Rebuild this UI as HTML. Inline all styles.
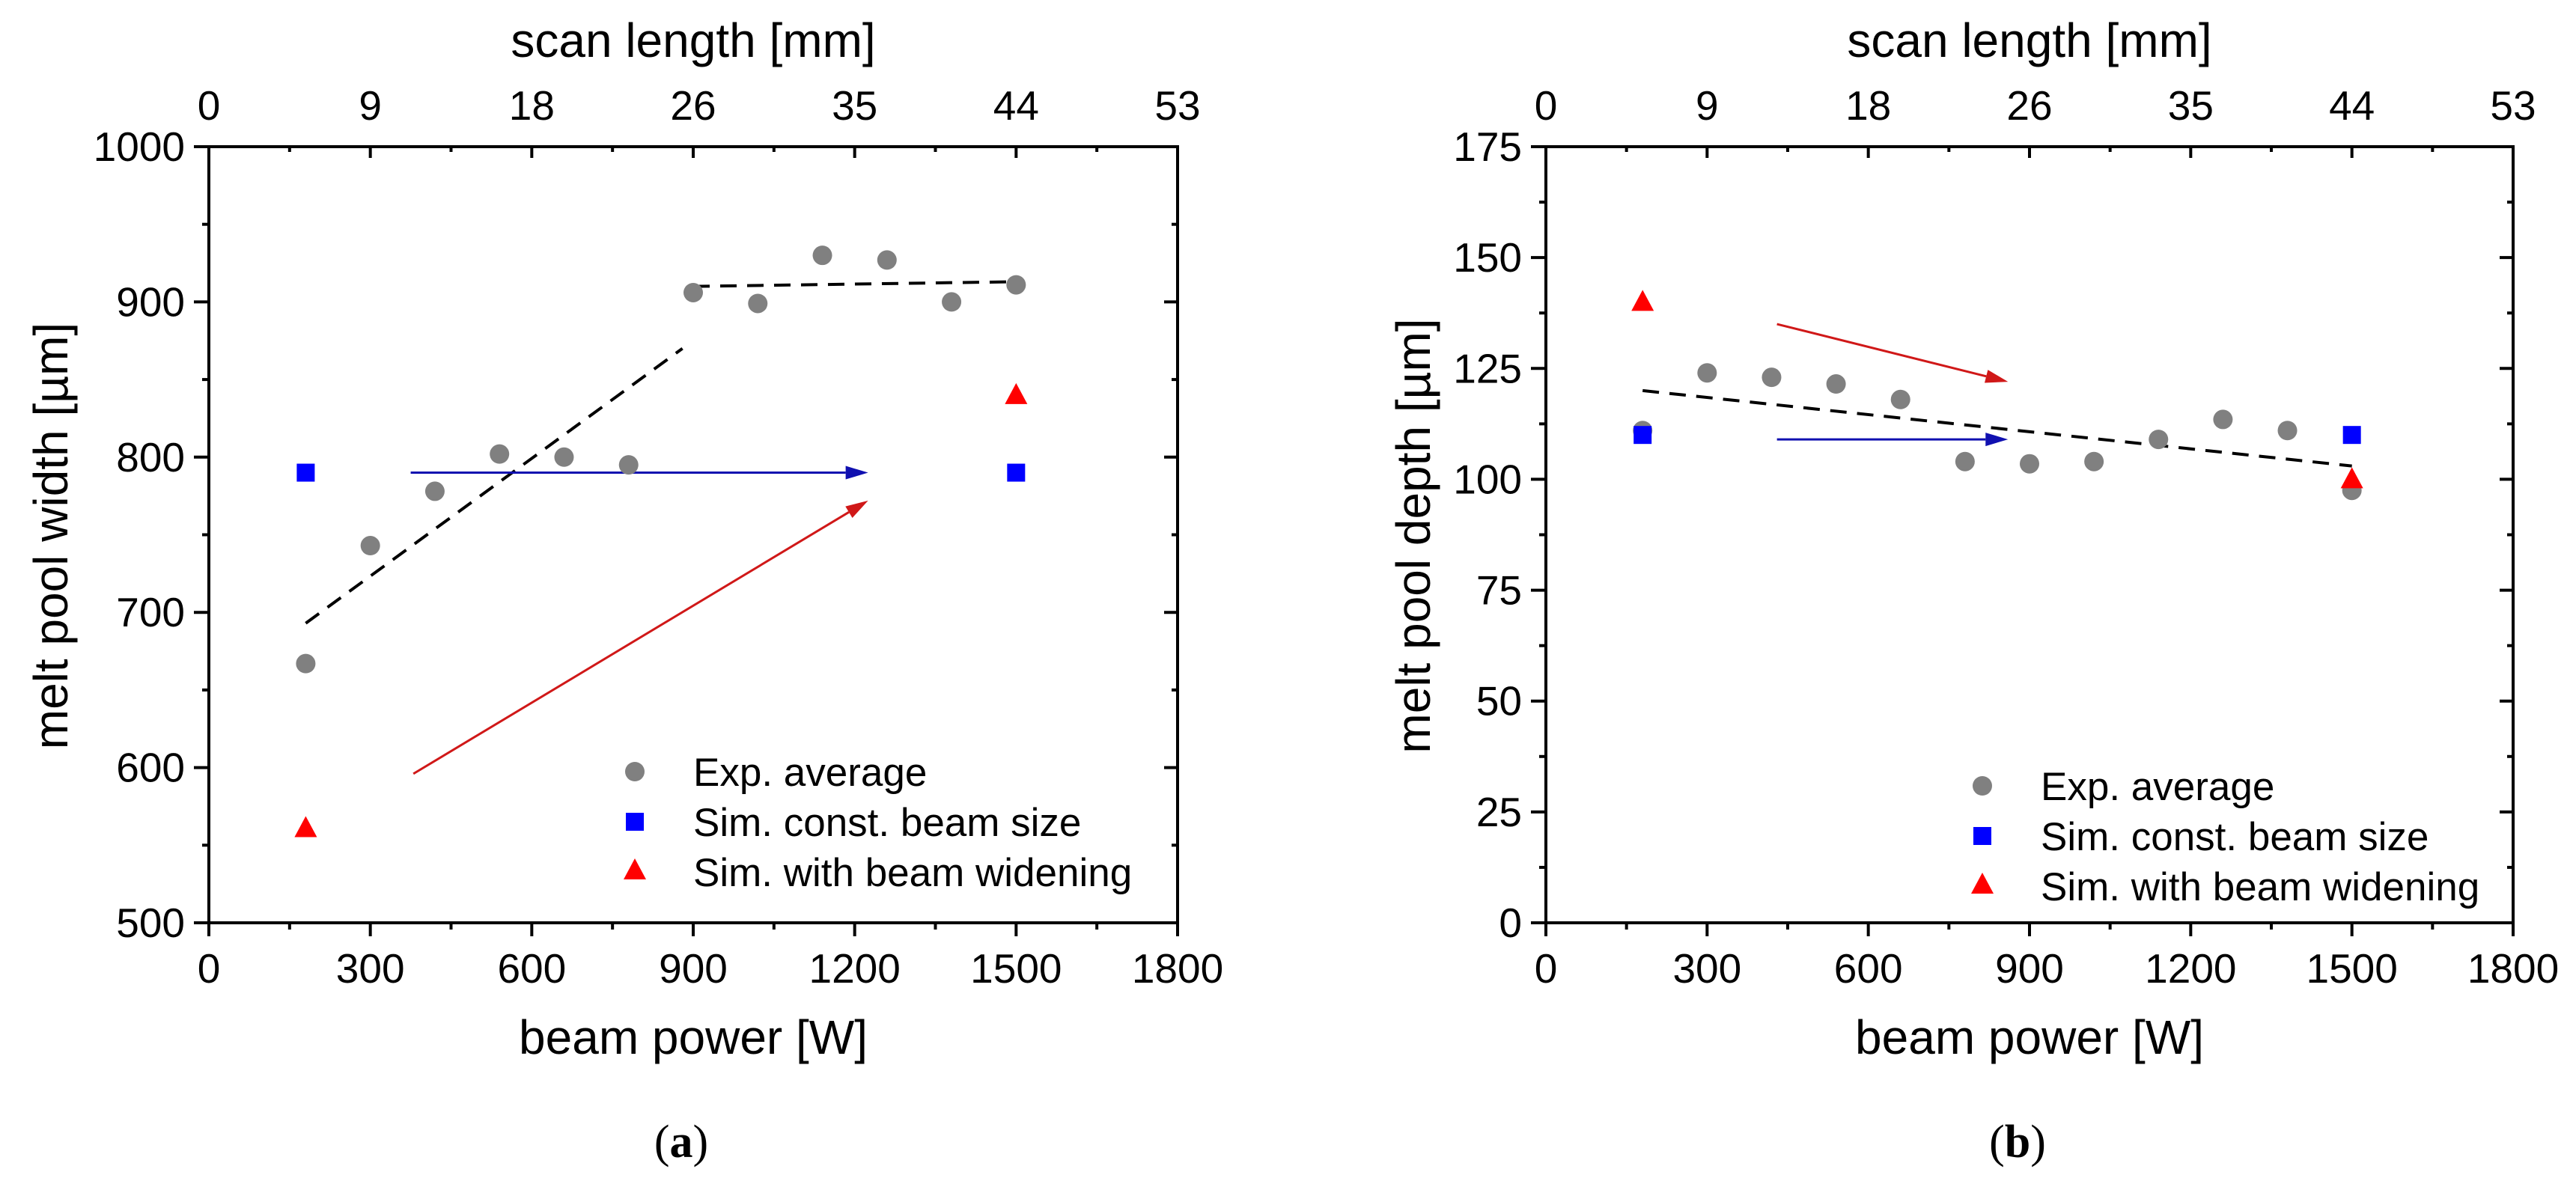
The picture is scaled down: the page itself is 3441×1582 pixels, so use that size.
<!DOCTYPE html>
<html><head><meta charset="utf-8"><style>
html,body{margin:0;padding:0;background:#fff;}
svg{display:block;font-family:"Liberation Sans",Arial,sans-serif;}
</style></head><body>
<svg id="fig" width="3441" height="1582" viewBox="0 0 3441 1582"></svg>
<script>
// shared x data (beam power W)
const expPower = [180,300,420,540,660,780,900,1020,1140,1260,1380,1500];
const simPower = [180,1500];
const xTicks = [0,300,600,900,1200,1500,1800];
const topTickLabels = ["0","9","18","26","35","44","53"];
// panel a
const widthExp = [667,743,778,802,800,795,906,899,930,927,900,911];
const widthConst = [790,790];
const widthWiden = [561,840];
const widthFit1 = [[180,693],[880,870]];
const widthFit2 = [[900,910],[1500,913]];
const widthBlueArrow = [[375,790],[1225,790]];
const widthRedArrow = [[380,596],[1225,772]];
const widthTicks = [500,600,700,800,900,1000];
// panel b
const depthExp = [111,124,123,121.5,118,104,103.5,104,109,113.5,111,97.5];
const depthConst = [110,110];
const depthWiden = [140,100];
const depthFit = [[180,120],[1500,103]];
const depthBlueArrow = [[430,109],[860,109]];
const depthRedArrow = [[430,135],[860,122]];
const depthTicks = [0,25,50,75,100,125,150,175];

const NS="http://www.w3.org/2000/svg";
const svg=document.getElementById('fig');
function mk(tag,attrs,parent){const e=document.createElementNS(NS,tag);for(const k in attrs)e.setAttribute(k,attrs[k]);(parent||svg).appendChild(e);return e;}

function panel(o){
  const g=mk('g',{});
  
  
  const L=o.left,R=o.right,T=196,B=1233;
  const xs=v=>L+(v-0)/1800*(R-L);
  const ys=v=>B-(v-o.ymin)/(o.ymax-o.ymin)*(B-T);
  // frame
  const fr=mk('rect',{x:L,y:T,width:R-L,height:B-T,fill:'none',stroke:'#000','stroke-width':4},g);
  
  
  // x ticks
  xTicks.forEach((t,i)=>{
    const x=xs(t);
    mk('line',{x1:x,y1:B,x2:x,y2:B+18,stroke:'#000','stroke-width':4},g);
    mk('line',{x1:x,y1:T,x2:x,y2:T+15,stroke:'#000','stroke-width':4},g);
    const bl=mk('text',{x:x,y:1313,'font-size':55,'text-anchor':'middle'},g);
    bl.textContent=t;
    
    
    const tl=mk('text',{x:x,y:160,'font-size':55,'text-anchor':'middle'},g);
    tl.textContent=topTickLabels[i];
    
    
    if(i<xTicks.length-1){
      const xm=xs(t+150);
      mk('line',{x1:xm,y1:B,x2:xm,y2:B+9,stroke:'#000','stroke-width':4},g);
      mk('line',{x1:xm,y1:T,x2:xm,y2:T+7,stroke:'#000','stroke-width':4},g);
    }
  });
  // y ticks
  o.yticks.forEach((t,i)=>{
    const y=ys(t);
    mk('line',{x1:L-20,y1:y,x2:L,y2:y,stroke:'#000','stroke-width':4},g);
    mk('line',{x1:R-18,y1:y,x2:R,y2:y,stroke:'#000','stroke-width':4},g);
    const yl=mk('text',{x:L-32,y:y+19,'font-size':55,'text-anchor':'end'},g);
    yl.textContent=t;
    
    
    if(i<o.yticks.length-1){
      const ym=ys(t+(o.yticks[1]-o.yticks[0])/2);
      mk('line',{x1:L-9,y1:ym,x2:L,y2:ym,stroke:'#000','stroke-width':4},g);
      mk('line',{x1:R-8,y1:ym,x2:R,y2:ym,stroke:'#000','stroke-width':4},g);
    }
  });
  // titles
  const cx=(L+R)/2;
  const xt=mk('text',{x:cx,y:1408,'font-size':64,'text-anchor':'middle'},g);
  xt.textContent='beam power [W]';
  
  
  const tt=mk('text',{x:cx,y:76,'font-size':64,'text-anchor':'middle'},g);
  tt.textContent='scan length [mm]';
  
  
  const yt=mk('text',{x:0,y:0,'font-size':64,'text-anchor':'middle',transform:`translate(${o.ytx},716) rotate(-90)`},g);
  yt.textContent=o.ytitle;
  
  
  const pl=mk('text',{x:cx-16,y:1546,'font-size':62,'text-anchor':'middle','font-family':'"Liberation Serif",serif'},g);
  pl.innerHTML='(<tspan font-weight="bold">'+o.label+'</tspan>)';
  
  
  // fits
  o.fits.forEach(f=>{
    const l=mk('line',{x1:xs(f[0][0]),y1:ys(f[0][1]),x2:xs(f[1][0]),y2:ys(f[1][1]),stroke:'#000','stroke-width':4,'stroke-dasharray':'22,14'},g);
    
    
  });
  // arrows
  function arrow(a,col,nm){
    const x1=xs(a[0][0]),y1=ys(a[0][1]),x2=xs(a[1][0]),y2=ys(a[1][1]);
    const ang=Math.atan2(y2-y1,x2-x1),hl=30,hw=9;
    const bx=x2-hl*Math.cos(ang),by=y2-hl*Math.sin(ang);
    const ln=mk('line',{x1:x1,y1:y1,x2:bx,y2:by,stroke:col,'stroke-width':3},g);
    
    
    const px=-Math.sin(ang),py=Math.cos(ang);
    const hd=mk('polygon',{points:`${x2},${y2} ${bx+px*hw},${by+py*hw} ${bx-px*hw},${by-py*hw}`,fill:col},g);
    
    
  }
  arrow(o.blueArrow,'#1010b0','blue-arrow');
  arrow(o.redArrow,'#d01818','red-arrow');
  // markers
  function circ(x,y,nm){const c=mk('circle',{cx:x,cy:y,r:13,fill:'#808080'},g);}
  function sq(x,y,nm){const c=mk('rect',{x:x-12,y:y-12,width:24,height:24,fill:'#0000ff'},g);}
  function tri(x,y,nm){const c=mk('polygon',{points:`${x},${y-16} ${x-15},${y+12} ${x+15},${y+12}`,fill:'#ff0000'},g);}
  o.exp.forEach((v,i)=>circ(xs(expPower[i]),ys(v),'exp-point'));
  o.cons.forEach((v,i)=>sq(xs(simPower[i]),ys(v),'sim-const-point'));
  o.wid.forEach((v,i)=>tri(xs(simPower[i]),ys(v),'sim-widen-point'));
  // legend
  const lg=mk('g',{},g);
  
  
  const names=['Exp. average','Sim. const. beam size','Sim. with beam widening'];
  names.forEach((n,i)=>{
    const y=o.legY+i*67;
    if(i==0)circ(o.legX,y,'legend-marker-exp');
    if(i==1)sq(o.legX,y,'legend-marker-const');
    if(i==2)tri(o.legX,y-2,'legend-marker-widen');
    const t=mk('text',{x:o.legX+78,y:y+19,'font-size':53},lg);
    t.textContent=n;
    
    
  });
}
panel({name:'panel-a-width',left:279,right:1573,ymin:500,ymax:1000,yticks:widthTicks,ytitle:'melt pool width [µm]',ytx:90,label:'a',
  fits:[widthFit1,widthFit2],blueArrow:widthBlueArrow,redArrow:widthRedArrow,exp:widthExp,cons:widthConst,wid:widthWiden,legX:848,legY:1031});
panel({name:'panel-b-depth',left:2065,right:3357,ymin:0,ymax:175,yticks:depthTicks,ytitle:'melt pool depth [µm]',ytx:1910,label:'b',
  fits:[depthFit],blueArrow:depthBlueArrow,redArrow:depthRedArrow,exp:depthExp,cons:depthConst,wid:depthWiden,legX:2648,legY:1050});
</script>
</body></html>
